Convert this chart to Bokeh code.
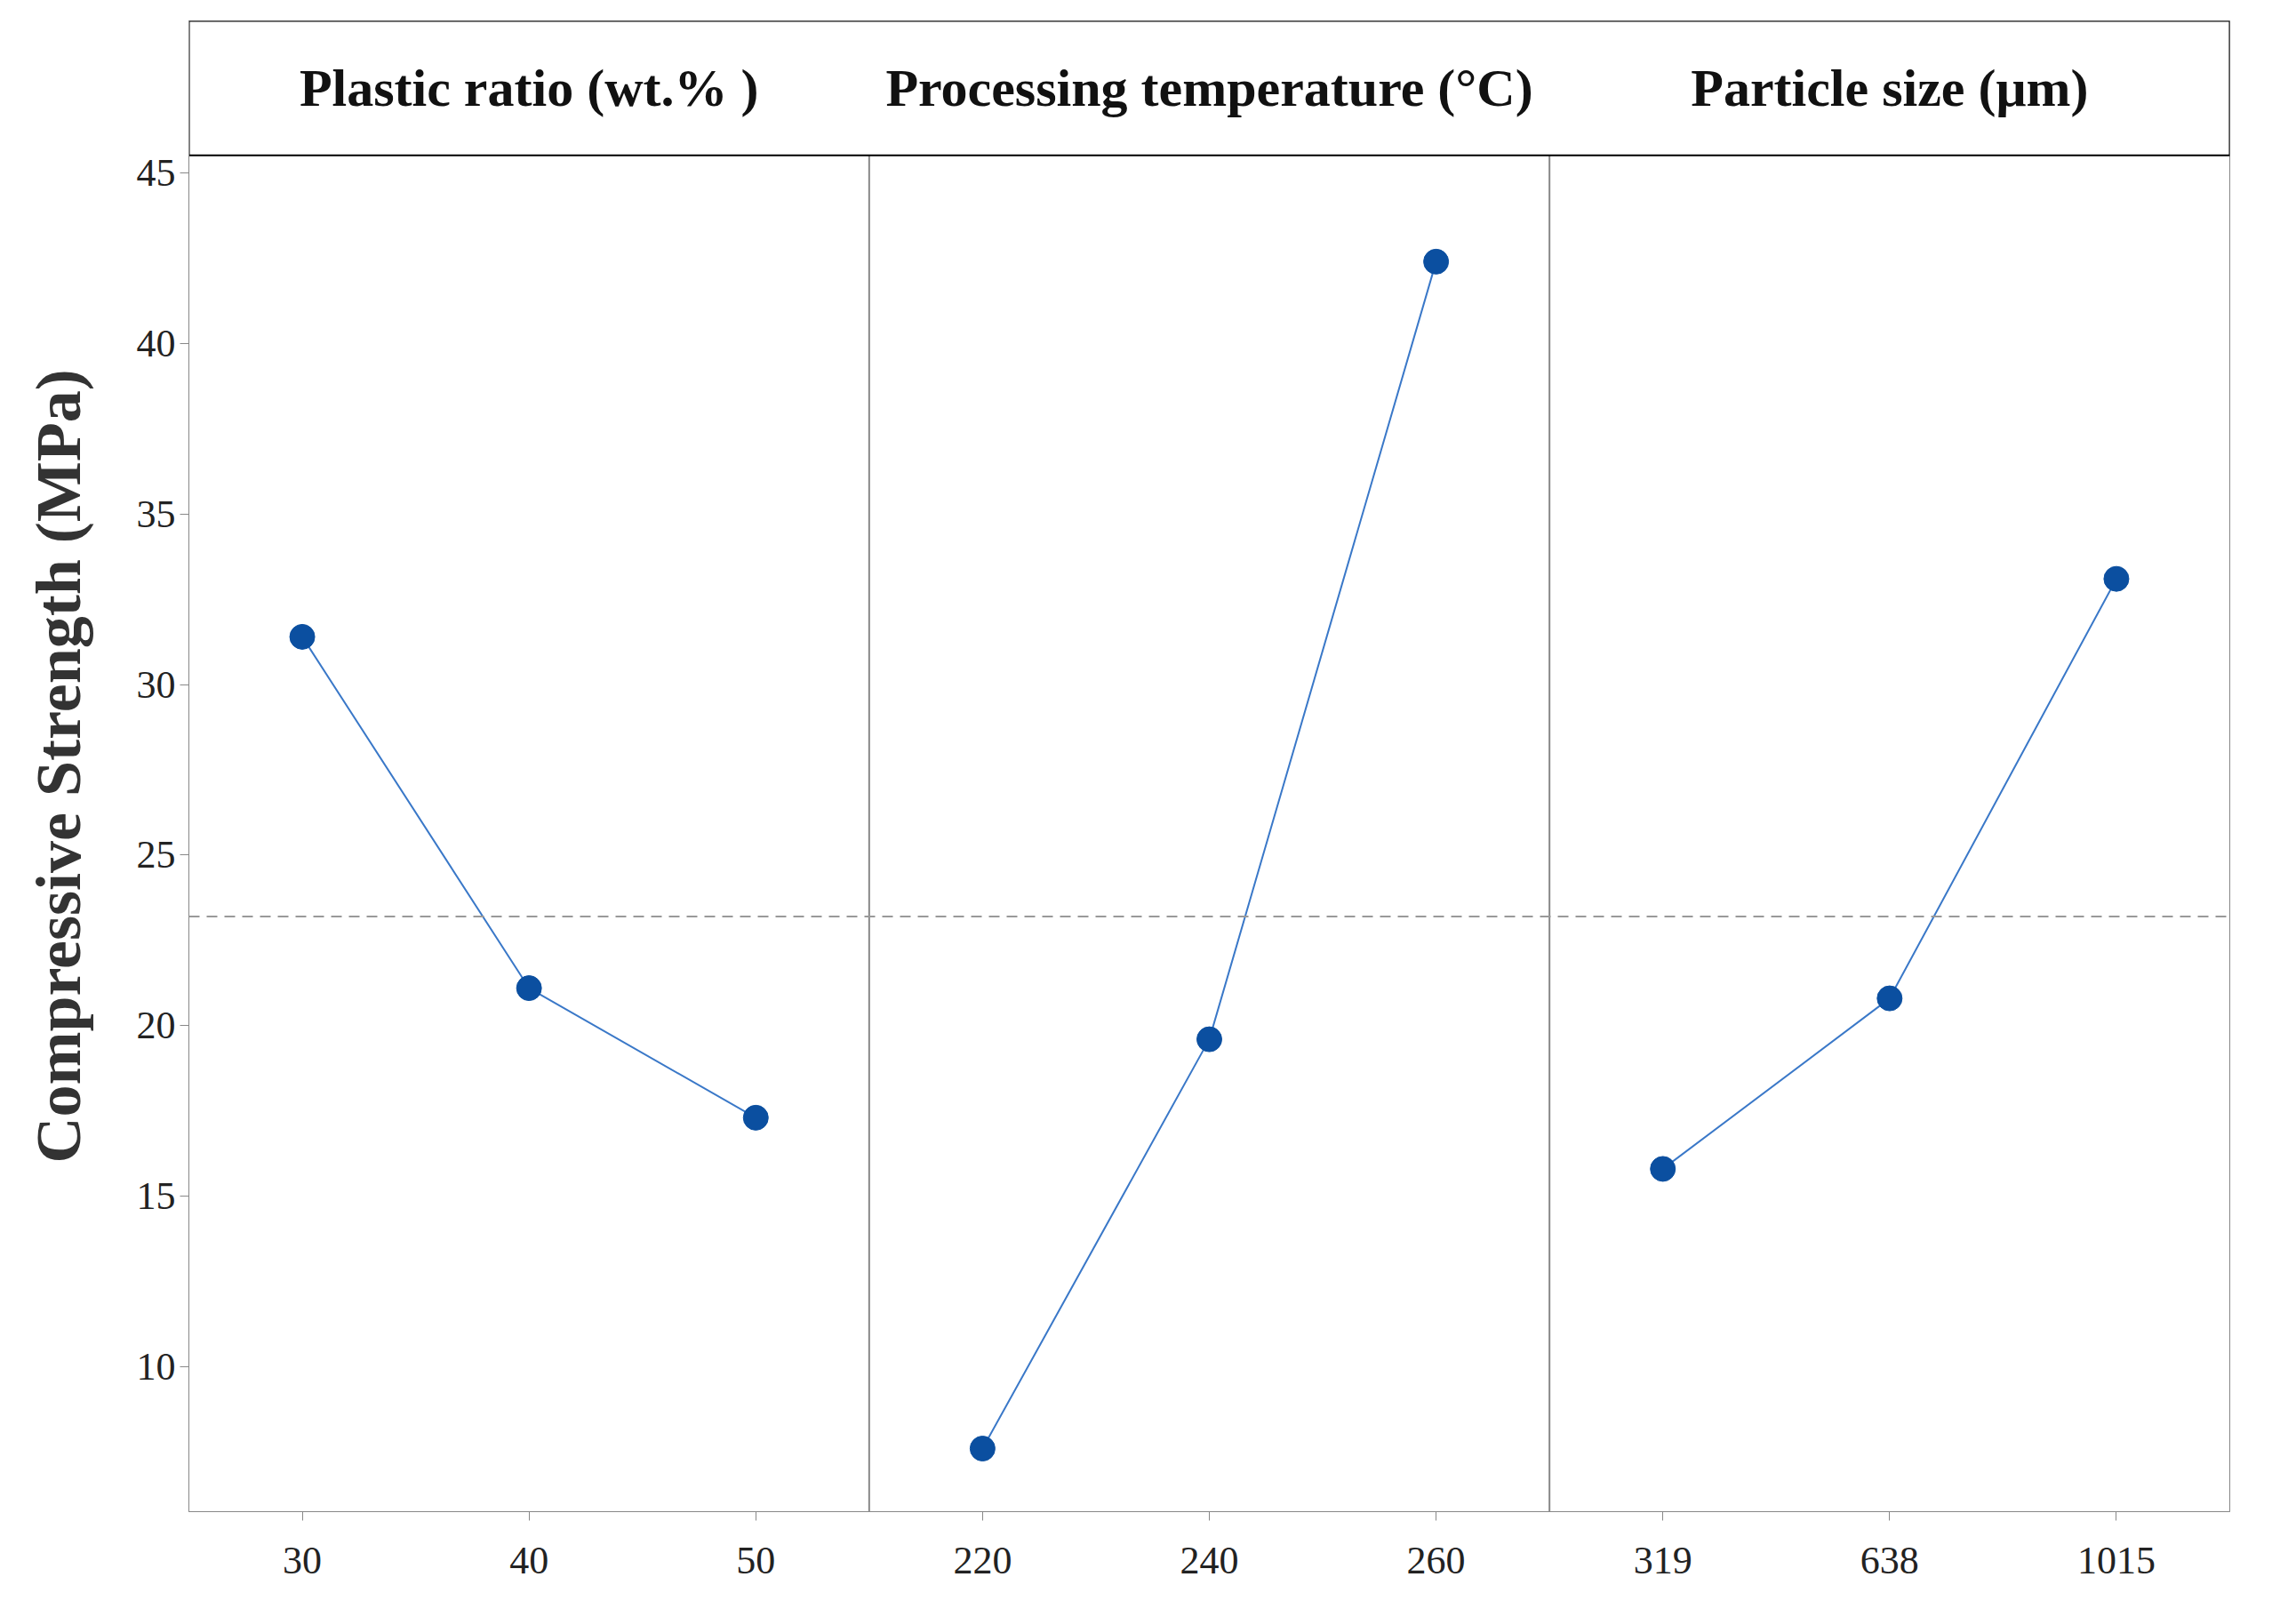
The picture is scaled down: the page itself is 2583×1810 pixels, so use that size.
from bokeh.plotting import figure
from bokeh.models import FixedTicker, Span, Range1d, Label
from bokeh.embed import file_html
from bokeh.resources import INLINE

panels = ["Plastic ratio (wt.% )", "Processing temperature (°C)", "Particle size (μm)"]
levels = [["30", "40", "50"], ["220", "240", "260"], ["319", "638", "1015"]]
values = [[31.4, 21.1, 17.3], [7.6, 19.6, 42.4], [15.8, 20.8, 33.1]]
mean_value = 23.2

FONT = "Liberation Serif"
p = figure(width=2560, height=1790, output_backend="svg", toolbar_location=None,
           x_range=Range1d(-0.5, 8.5), y_range=Range1d(5.75, 49.46),
           min_border_left=212, min_border_right=52, min_border_top=23, min_border_bottom=90)
p.grid.visible = False
p.outline_line_color = "#888888"
p.background_fill_color = "white"

ticks, labels = [], {}
for k in range(3):
    xs = [3 * k + i for i in range(3)]
    for x, l in zip(xs, levels[k]):
        ticks.append(x); labels[x] = l
    p.line(xs, values[k], line_color="#3a78c8", line_width=2)
    p.scatter(xs, values[k], size=28, fill_color="#0b4fa0", line_color="#0b4fa0")

p.segment(x0=[2.5, 5.5], y0=[5.75, 5.75], x1=[2.5, 5.5], y1=[45.52, 45.52],
          line_color="#888888", line_width=2)
p.add_layout(Span(location=mean_value, dimension="width", line_color="#999999",
                  line_width=2, line_dash="12 8"))

p.quad(left=-0.5, right=8.5, bottom=45.52, top=49.46, fill_color="white", line_color="black", line_width=2)
for k in range(3):
    p.add_layout(Label(x=3 * k + 1, y=47.5, text=panels[k], text_align="center", text_baseline="middle",
                       text_font=FONT, text_font_style="bold", text_font_size="60px", text_color="#111111"))

p.xaxis.ticker = FixedTicker(ticks=ticks)
p.xaxis.major_label_overrides = labels
p.xaxis.major_label_standoff = 30
p.yaxis.ticker = FixedTicker(ticks=[10, 15, 20, 25, 30, 35, 40, 45])
for ax in [p.xaxis, p.yaxis]:
    ax.major_label_text_font = FONT
    ax.major_label_text_font_size = "44px"
    ax.major_label_text_color = "#222222"
    ax.axis_line_color = "#888888"
    ax.major_tick_line_color = "#888888"
    ax.major_tick_out = 10
    ax.major_tick_in = 0
    ax.minor_tick_line_color = None
p.yaxis.axis_label = "Compressive Strength (MPa)"
p.yaxis.axis_label_text_font = FONT
p.yaxis.axis_label_text_font_style = "bold"
p.yaxis.axis_label_text_font_size = "72px"
p.yaxis.axis_label_text_color = "#333333"
p.yaxis.axis_label_standoff = 45

open("out.html", "w").write(file_html(p, INLINE))
